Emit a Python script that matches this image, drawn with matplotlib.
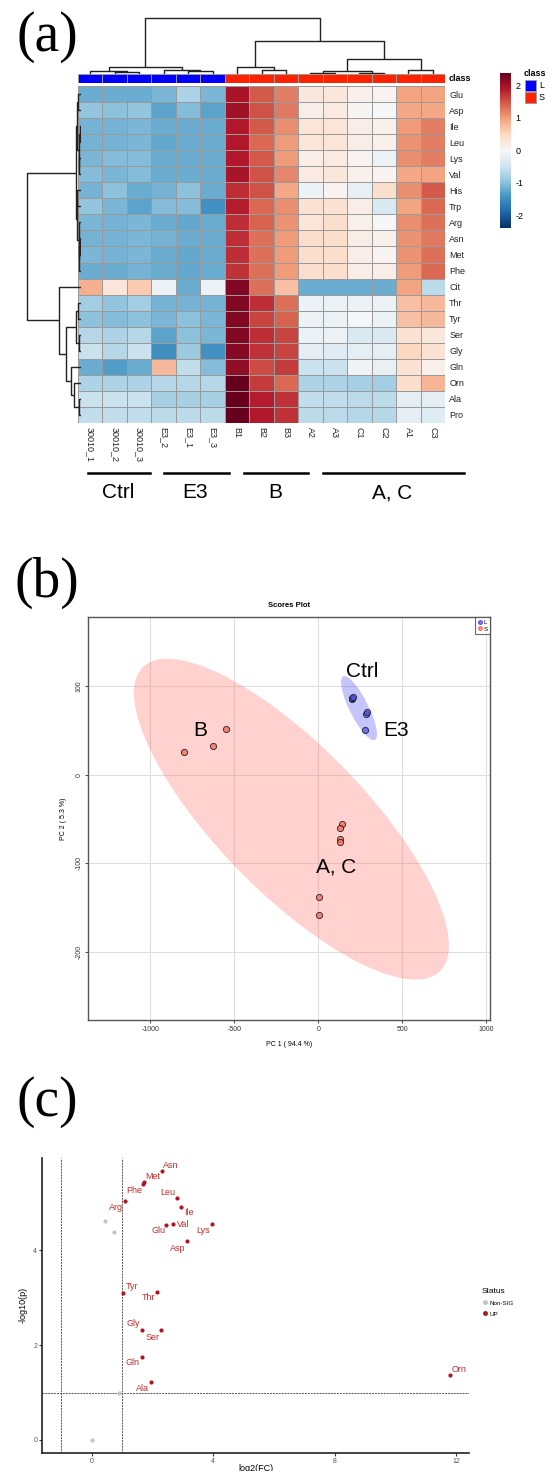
import numpy as np
import matplotlib
matplotlib.use("Agg")
import matplotlib.pyplot as plt
from matplotlib.patches import Ellipse, Rectangle
from matplotlib.lines import Line2D

plt.rcParams['font.family'] = ['Liberation Sans', 'DejaVu Sans']
plt.rcParams['axes.unicode_minus'] = False

# ---------------- data ----------------
# (a) heatmap
heat_rows = ['Glu', 'Asp', 'Ile', 'Leu', 'Lys', 'Val', 'His', 'Trp', 'Arg', 'Asn', 'Met', 'Phe',
             'Cit', 'Thr', 'Tyr', 'Ser', 'Gly', 'Gln', 'Orn', 'Ala', 'Pro']
heat_cols = ['30010_1', '30010_2', '30010_3', 'E3_2', 'E3_1', 'E3_3', 'B1', 'B2', 'B3',
             'A2', 'A3', 'C1', 'C2', 'A1', 'C3']
heat_class = ['L'] * 6 + ['S'] * 9
heat_z = [
    [-1.20, -1.20, -1.20, -1.10, -0.75, -1.10, 1.95, 1.45, 1.20, 0.25, 0.25, 0.10, 0.05, 0.95, 0.95],
    [-0.95, -1.00, -0.95, -1.30, -1.05, -1.30, 2.00, 1.50, 1.25, 0.15, 0.20, 0.02, -0.02, 0.90, 0.90],
    [-1.15, -1.15, -1.10, -1.20, -1.20, -1.20, 1.90, 1.45, 1.10, 0.30, 0.30, 0.15, 0.10, 1.00, 1.20],
    [-1.15, -1.15, -1.10, -1.25, -1.20, -1.20, 1.90, 1.35, 1.00, 0.30, 0.30, 0.15, 0.10, 1.05, 1.20],
    [-1.10, -1.05, -1.05, -1.20, -1.20, -1.20, 1.90, 1.45, 1.00, 0.15, 0.20, 0.05, -0.15, 1.10, 1.20],
    [-1.05, -1.10, -1.05, -1.20, -1.20, -1.20, 1.95, 1.50, 1.15, 0.20, 0.25, 0.10, 0.05, 0.90, 0.95],
    [-1.15, -1.00, -1.20, -1.15, -1.00, -1.20, 1.75, 1.50, 0.90, -0.15, 0.05, -0.20, 0.40, 1.10, 1.45],
    [-0.95, -1.10, -1.30, -1.05, -1.05, -1.45, 1.85, 1.35, 1.10, 0.35, 0.35, 0.15, -0.40, 0.95, 1.35],
    [-1.10, -1.15, -1.10, -1.20, -1.25, -1.20, 1.75, 1.40, 1.05, 0.30, 0.40, 0.10, 0.00, 1.10, 1.30],
    [-1.15, -1.15, -1.10, -1.15, -1.20, -1.20, 1.75, 1.30, 1.00, 0.40, 0.40, 0.15, 0.10, 1.05, 1.25],
    [-1.10, -1.15, -1.10, -1.20, -1.25, -1.20, 1.75, 1.30, 1.00, 0.40, 0.40, 0.15, 0.05, 1.05, 1.30],
    [-1.20, -1.20, -1.15, -1.20, -1.25, -1.20, 1.70, 1.30, 1.00, 0.40, 0.40, 0.15, 0.15, 1.00, 1.35],
    [0.85, 0.30, 0.60, -0.15, -1.20, -0.15, 2.20, 1.30, 0.70, -1.20, -1.20, -1.20, -1.20, 0.95, -0.65],
    [-0.85, -0.95, -0.85, -1.15, -1.15, -1.15, 2.20, 1.75, 1.30, -0.15, -0.15, -0.15, -0.15, 0.70, 0.75],
    [-1.00, -1.05, -1.00, -1.10, -1.00, -1.10, 2.20, 1.60, 1.40, -0.15, -0.15, -0.05, -0.15, 0.70, 0.75],
    [-0.70, -0.75, -0.70, -1.30, -1.00, -1.10, 2.20, 1.75, 1.60, -0.15, -0.15, -0.40, -0.40, 0.35, 0.25],
    [-0.55, -0.70, -0.55, -1.50, -0.90, -1.45, 2.15, 1.70, 1.60, -0.25, -0.30, -0.25, -0.25, 0.50, 0.35],
    [-1.20, -1.35, -1.20, 0.75, -0.60, -1.05, 2.10, 1.55, 1.65, -0.55, -0.55, -0.10, -0.20, 0.35, 0.10],
    [-0.75, -0.75, -0.75, -0.70, -0.70, -0.70, 2.40, 1.65, 1.35, -0.75, -0.75, -0.80, -0.85, 0.40, 0.80],
    [-0.55, -0.55, -0.55, -0.80, -0.80, -0.80, 2.40, 1.85, 1.70, -0.60, -0.60, -0.65, -0.65, -0.25, -0.25],
    [-0.60, -0.60, -0.60, -0.65, -0.65, -0.65, 2.45, 1.90, 1.70, -0.65, -0.65, -0.70, -0.70, -0.25, -0.30],
]
# dendrogram merges: (child_a, child_b, height); leaves 0..n-1, new nodes n, n+1, ...
col_merges = [(1, 2, 0.03), (0, 15, 0.054), (4, 5, 0.06), (3, 17, 0.07), (16, 18, 0.13),
              (7, 8, 0.07), (6, 20, 0.13), (9, 10, 0.02), (11, 12, 0.025), (22, 23, 0.045),
              (13, 14, 0.07), (24, 25, 0.26), (21, 26, 0.59), (19, 27, 1.0)]
row_merges = [(2, 3, 0.02), (4, 5, 0.03), (21, 22, 0.04), (0, 1, 0.06), (24, 23, 0.07),
              (9, 10, 0.02), (26, 11, 0.03), (8, 27, 0.04), (6, 7, 0.07), (29, 28, 0.08),
              (25, 30, 0.09), (13, 14, 0.05), (15, 16, 0.03), (32, 33, 0.09), (19, 20, 0.04),
              (18, 35, 0.13), (17, 36, 0.19), (34, 37, 0.27), (12, 38, 0.40), (31, 39, 1.0)]
group_names = ['Ctrl', 'E3', 'B', 'A, C']

# (b) PCA scores
pc1_L = [198, 202, 207, 283, 287, 275]
pc2_L = [85, 87, 88, 69, 71, 50]
pc1_S = [-552, -626, -802, 139, 126, 126, 130, 6, 6]
pc2_S = [52, 32, 26, -56, -60, -73, -76, -138, -158]
pca_tags = ['Ctrl', 'E3', 'B', 'A, C']
pca_tag_x = [167, 388, -748, -13]
pca_tag_y = [116, 50, 50, -104]

# (c) volcano
vol_names = ['Asn', 'Met', 'Phe', 'Arg', 'Leu', 'Ile', 'Glu', 'Val', 'Lys', 'Asp', 'Tyr', 'Thr',
             'Gly', 'Ser', 'Gln', 'Ala', 'Orn', 'His', 'Trp', 'Pro', 'Cit']
vol_log2fc = [2.32, 1.72, 1.69, 1.10, 2.81, 2.93, 2.45, 2.67, 3.97, 3.14, 1.04, 2.15,
              1.66, 2.29, 1.64, 1.96, 11.8, 0.44, 0.73, 0.91, 0.0]
vol_neglogp = [5.67, 5.45, 5.41, 5.05, 5.10, 4.92, 4.54, 4.55, 4.56, 4.19, 3.11, 3.13,
               2.32, 2.31, 1.76, 1.22, 1.36, 4.63, 4.39, 0.98, 0.0]
fc_cut = 1.0
p_cut = 1.0

# label offsets in pixels (layout only)
vol_label_offset = {'Asn': (9, 6), 'Met': (9, 5), 'Phe': (-9, -7), 'Arg': (-9, -7), 'Leu': (-9, 6),
                    'Ile': (8, -6), 'Glu': (-8, -6), 'Val': (10, 0), 'Lys': (-9, -7), 'Asp': (-9, -7),
                    'Tyr': (9, 6), 'Thr': (-9, -6), 'Gly': (-9, 6), 'Ser': (-9, -7), 'Gln': (-9, -6),
                    'Ala': (-9, -6), 'Orn': (9, 6)}

# ---------------- figure ----------------
W, H = 553, 1471
fig = plt.figure(figsize=(W / 100, H / 100), dpi=100)


def add_ax(x0, y0, x1, y1):
    return fig.add_axes([x0 / W, 1 - y1 / H, (x1 - x0) / W, (y1 - y0) / H])


def fpx(x, y):
    return x / W, 1 - y / H


def draw_dendro(ax, merges, n, orient):
    pos = {i: i + 0.5 for i in range(n)}
    hgt = {i: 0.0 for i in range(n)}
    for k, (a, b, h) in enumerate(merges):
        node = n + k
        xa, xb = pos[a], pos[b]
        if orient == 'top':
            ax.plot([xa, xa, xb, xb], [hgt[a], h, h, hgt[b]], color='#222222', lw=1.0,
                    solid_capstyle='butt')
        else:
            ax.plot([hgt[a], h, h, hgt[b]], [xa, xa, xb, xb], color='#222222', lw=1.0,
                    solid_capstyle='butt')
        pos[node] = (xa + xb) / 2
        hgt[node] = h


for lab, ycen in [('(a)', 37), ('(b)', 583), ('(c)', 1102)]:
    fig.text(*fpx(47, ycen), lab, family='Liberation Serif', fontsize=40,
             ha='center', va='center')

# ---- (a) heatmap ----
nr, nc = len(heat_rows), len(heat_cols)
Z = np.array(heat_z)
vmin, vmax = -2.4, 2.37
hx0, hx1, hy0, hy1 = 78, 445, 86, 423

axh = add_ax(hx0, hy0, hx1, hy1)
mesh = axh.pcolormesh(np.arange(nc + 1), np.arange(nr + 1), Z, cmap='RdBu_r', vmin=vmin, vmax=vmax,
                      edgecolors='#9a9a9a', linewidth=0.7)
axh.set_xlim(0, nc)
axh.set_ylim(nr, 0)
axh.set_xticks(np.arange(nc) + 0.5)
axh.set_xticklabels(heat_cols, rotation=270, fontsize=6.5, color='#222222')
axh.yaxis.tick_right()
axh.set_yticks(np.arange(nr) + 0.5)
axh.set_yticklabels(heat_rows, fontsize=6.5, color='#222222')
axh.tick_params(length=0, pad=3)
for s in axh.spines.values():
    s.set_visible(False)

# class bar
axc = add_ax(hx0, 74, hx1, 82.5)
class_col = {'L': '#0000ff', 'S': '#ff2200'}
for i, c in enumerate(heat_class):
    axc.add_patch(Rectangle((i, 0), 1, 1, facecolor=class_col[c], edgecolor='#9a9a9a', lw=0.7))
axc.set_xlim(0, nc)
axc.set_ylim(0, 1)
axc.axis('off')
fig.text(*fpx(449, 78.5), 'class', fontsize=6.5, fontweight='bold', ha='left', va='center')

# column dendrogram
axd = add_ax(hx0, 16.5, hx1, 74)
draw_dendro(axd, col_merges, nc, 'top')
axd.set_xlim(0, nc)
axd.set_ylim(0, 1.02)
axd.axis('off')

# row dendrogram
axr = add_ax(26, hy0, 81, hy1)
draw_dendro(axr, row_merges, nr, 'left')
axr.set_xlim(1.01, 0)
axr.set_ylim(nr, 0)
axr.axis('off')

# colorbar
axcb = add_ax(500, 73, 511, 228)
cb = fig.colorbar(mesh, cax=axcb, ticks=[-2, -1, 0, 1, 2])
cb.outline.set_visible(False)
axcb.tick_params(length=0, labelsize=6.5, pad=3)

# class legend
fig.text(*fpx(524, 74), 'class', fontsize=6.5, fontweight='bold', ha='left', va='center')
for j, (c, yy) in enumerate([('L', 80), ('S', 92)]):
    x0, y0 = fpx(525, yy + 11)
    fig.add_artist(Rectangle((x0, y0), 11 / W, 11 / H, transform=fig.transFigure,
                             facecolor=class_col[c], edgecolor='#9a9a9a', lw=0.7))
    fig.text(*fpx(539, yy + 5.5), c, fontsize=6.5, ha='left', va='center')

# group annotations
group_spans = [(88, 150), (164, 229), (244, 308), (323, 464)]
for name, (a, b) in zip(group_names, group_spans):
    fig.add_artist(Line2D([a / W, b / W], [1 - 473 / H] * 2, color='black', lw=1.8,
                          transform=fig.transFigure))
    fig.text(*fpx((a + b) / 2 - 1, 493), name, fontsize=15, ha='center', va='center')

# ---- (b) PCA ----
axp = add_ax(88, 617, 490, 1020)
axp.set_xlim(-1372, 1022)
axp.set_ylim(-276.5, 177.8)
axp.set_xticks([-1000, -500, 0, 500, 1000])
axp.set_yticks([-200, -100, 0, 100])
axp.grid(True, color='#dedede', lw=0.8)
axp.set_axisbelow(True)


def conf_ellipse(ax, x, y, color):
    x, y = np.asarray(x, float), np.asarray(y, float)
    cov = np.cov(x, y)
    vals, vecs = np.linalg.eigh(cov)
    order = vals.argsort()[::-1]
    vals, vecs = vals[order], vecs[:, order]
    ang = np.degrees(np.arctan2(vecs[1, 0], vecs[0, 0]))
    k = np.sqrt(5.991)
    e = Ellipse((x.mean(), y.mean()), 2 * k * np.sqrt(vals[0]), 2 * k * np.sqrt(vals[1]),
                angle=ang, facecolor=color, edgecolor='none', zorder=1)
    ax.add_patch(e)


conf_ellipse(axp, pc1_S, pc2_S, (1.0, 0.42, 0.38, 0.3))
conf_ellipse(axp, pc1_L, pc2_L, (0.25, 0.25, 0.95, 0.3))
axp.scatter(pc1_S, pc2_S, s=20, facecolor=(0.96, 0.45, 0.38, 0.85), edgecolor='#222222',
            linewidth=0.6, zorder=3)
axp.scatter(pc1_L, pc2_L, s=20, facecolor=(0.3, 0.3, 0.92, 0.7), edgecolor='#222222',
            linewidth=0.6, zorder=3)
for t, x, y in zip(pca_tags, pca_tag_x, pca_tag_y):
    axp.text(x, y, t, fontsize=15, ha='left', va='center', zorder=4)
for s in axp.spines.values():
    s.set_color('#555555')
    s.set_linewidth(1.0)
axp.tick_params(labelsize=5, length=2, color='#555555', labelcolor='#333333', pad=2)
for lbl in axp.get_yticklabels():
    lbl.set_rotation(90)
    lbl.set_va('center')
axp.set_xlabel('PC 1 ( 94.4 %)', fontsize=5, labelpad=6)
axp.set_ylabel('PC 2 ( 5.3 %)', fontsize=5, labelpad=6)
axp.set_title('Scores Plot', fontsize=5.5, fontweight='bold', pad=7)
hl = [Line2D([], [], marker='o', ls='', markersize=2.5, markerfacecolor=(0.3, 0.3, 0.92, 0.6),
             markeredgecolor=(0.3, 0.3, 0.92)),
      Line2D([], [], marker='o', ls='', markersize=2.5, markerfacecolor=(0.96, 0.45, 0.38, 0.6),
             markeredgecolor=(0.96, 0.45, 0.38))]
lg = axp.legend(hl, ['L', 'S'], loc='upper right', fontsize=4.5, frameon=True, fancybox=False,
                borderaxespad=0, handletextpad=0.2, borderpad=0.4, labelspacing=0.2,
                handlelength=0.8)
lg.get_frame().set_edgecolor('#444444')
lg.get_frame().set_linewidth(0.8)

# ---- (c) volcano ----
axv = add_ax(42, 1158, 469, 1452.7)
axv.set_xlim(-1.64, 12.43)
axv.set_ylim(-0.27, 5.95)
fc = np.array(vol_log2fc)
lp = np.array(vol_neglogp)
up = (fc > fc_cut) & (lp > p_cut)
axv.axvline(-fc_cut, color='#555555', lw=0.7, ls=(0, (2, 1)), zorder=1)
axv.axvline(fc_cut, color='#555555', lw=0.7, ls=(0, (2, 1)), zorder=1)
axv.axhline(p_cut, color='#555555', lw=0.7, ls=(0, (2, 1)), zorder=1)
axv.scatter(fc[~up], lp[~up], s=9, color='#c4c4c4', linewidth=0, zorder=2)
axv.scatter(fc[up], lp[up], s=9, color='#b2151f', linewidth=0, zorder=2)
for name, x, y, u in zip(vol_names, fc, lp, up):
    if u:
        dx, dy = vol_label_offset[name]
        axv.annotate(name, (x, y), xytext=(dx, dy), textcoords='offset pixels', fontsize=6.5,
                     color='#c62a2a', ha='center', va='center')
axv.set_xticks([0, 4, 8, 12])
axv.set_yticks([0, 2, 4])
for side in ['top', 'right']:
    axv.spines[side].set_visible(False)
for side in ['left', 'bottom']:
    axv.spines[side].set_linewidth(1.2)
    axv.spines[side].set_color('#222222')
axv.tick_params(labelsize=5, length=2, color='#333333', labelcolor='#555555', pad=1.5)
axv.set_xlabel('log2(FC)', fontsize=6.5, labelpad=-0.5)
axv.set_ylabel('-log10(p)', fontsize=6.5, labelpad=4)
vh = [Line2D([], [], marker='o', ls='', markersize=2.5, color='#c4c4c4'),
      Line2D([], [], marker='o', ls='', markersize=2.5, color='#b2151f')]
vl = fig.legend(vh, ['Non-SIG', 'UP'], title='Status', loc='upper left',
                bbox_to_anchor=fpx(476, 1282), fontsize=4.5, title_fontsize=6, frameon=False,
                handletextpad=0.3, labelspacing=0.9, handlelength=1.0)
vl._legend_box.align = 'left'

fig.savefig('out.png', dpi=100)
